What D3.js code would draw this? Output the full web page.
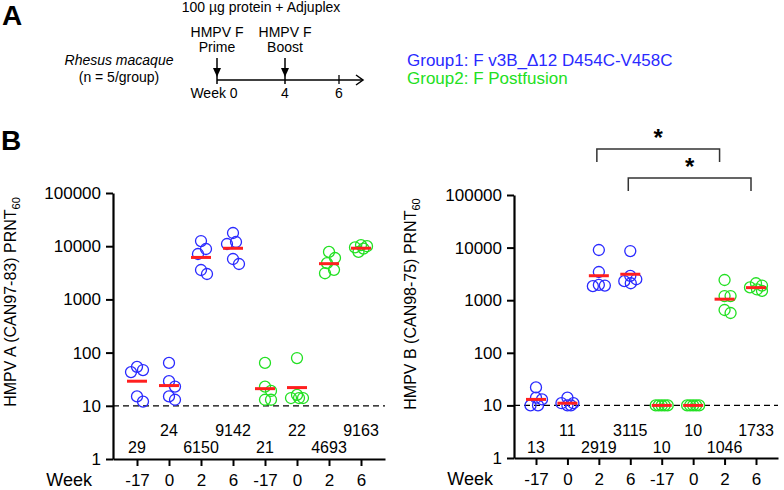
<!DOCTYPE html>
<html><head><meta charset="utf-8">
<script src="https://cdn.jsdelivr.net/npm/d3@7"></script>
<style>body{margin:0;background:#fff} svg{display:block;font-family:"Liberation Sans",Arial,sans-serif}</style>
</head><body><svg id="c" width="784" height="490"></svg>
<script>
// ---------- data ----------
const weeks = ["-17","0","2","6","-17","0","2","6"];
const groups = [1,1,1,1,2,2,2,2];
const hmpvA = [
  [54,47,43,15,12],
  [64,29,23,15,13],
  [12500,8850,7130,3570,3000],
  [17700,12000,11000,5750,4630],
  [64,23,19,13,13],
  [79,16,14,14,14],
  [7800,6000,4800,3600,3100],
  [10500,10000,9500,9000,7800]
];
const gmtA = [29,24,6150,9142,21,22,4693,9163];
const hmpvB = [
  [22,14,13,10,10],
  [14,11,11,10,10],
  [9000,3440,1950,1900,1850],
  [8600,2900,2500,2300,2100],
  [10,10,10,10,10],
  [10,10,10,10,10],
  [2420,1200,1200,651,571],
  [2100,1900,1750,1600,1500]
];
const gmtB = [13,11,2919,3115,10,10,1046,1733];
const yTicks = [1,10,100,1000,10000,100000];
const limitOfDetection = 10;
const legendLabels = ["Group1: F v3B_\u039412 D454C-V458C","Group2: F Postfusion"];
const sigPairs = [[2,6],[3,7]];
const sigLabels = ["*","*"];
const timelineWeeks = [0,4,6];
const timelineLabels = ["Week 0","4","6"];
const vaccinations = [{w:0,l1:"HMPV F",l2:"Prime"},{w:4,l1:"HMPV F",l2:"Boost"}];

// ---------- style ----------
const colors = {1:"#2a2aff",2:"#22e022"};
const red = "#ff1f1f";
const svg = d3.select("#c");

// ---------- panel A ----------
svg.append("text").attr("x",2).attr("y",25).attr("font-size",28).attr("font-weight","bold").text("A");
svg.append("text").attr("x",261).attr("y",12).attr("text-anchor","middle").attr("font-size",14).text("100 \u00b5g protein + Adjuplex");
svg.append("text").attr("x",119).attr("y",65).attr("text-anchor","middle").attr("font-size",14).attr("font-style","italic").text("Rhesus macaque");
svg.append("text").attr("x",119).attr("y",82).attr("text-anchor","middle").attr("font-size",14).text("(n = 5/group)");

const tx = d3.scaleLinear().domain(timelineWeeks).range([217,285,339]);
const tlY = 80;
svg.append("line").attr("x1",tx(0)).attr("x2",362).attr("y1",tlY).attr("y2",tlY).attr("stroke","#000").attr("stroke-width",1.5);
svg.append("path").attr("d",`M${356},${tlY-5}L${363},${tlY}L${356},${tlY+5}`).attr("fill","none").attr("stroke","#000").attr("stroke-width",1.5);
svg.append("line").attr("x1",tx(6)).attr("x2",tx(6)).attr("y1",tlY-5).attr("y2",tlY+4).attr("stroke","#000").attr("stroke-width",1.3);
vaccinations.forEach(v=>{
  const x = tx(v.w);
  svg.append("text").attr("x",x).attr("y",37).attr("text-anchor","middle").attr("font-size",14).text(v.l1);
  svg.append("text").attr("x",x).attr("y",52).attr("text-anchor","middle").attr("font-size",14).text(v.l2);
  svg.append("line").attr("x1",x).attr("x2",x).attr("y1",58).attr("y2",tlY+4).attr("stroke","#000").attr("stroke-width",1.5);
  svg.append("path").attr("d",`M${x-4},${68}L${x+4},${68}L${x},${77}Z`).attr("fill","#000");
});
timelineWeeks.forEach((w,i)=>{
  svg.append("text").attr("x",i===0?tx(w)-3:tx(w)).attr("y",98).attr("text-anchor","middle").attr("font-size",14).text(timelineLabels[i]);
});
legendLabels.forEach((l,i)=>{
  svg.append("text").attr("x",407).attr("y",66+i*18).attr("font-size",17).attr("fill",colors[i+1]).text(l);
});

// ---------- panel B ----------
svg.append("text").attr("x",1).attr("y",150).attr("font-size",28).attr("font-weight","bold").text("B");

function swarm(vals, y, r){
  const pts = vals.map((v,i)=>({v,i,y:y(v)})).sort((a,b)=>a.y-b.y);
  const placed = [];
  const dmin = 2*r*0.85;
  const cands = d3.range(-6,6.01,0.5).sort((a,b)=>Math.abs(a)-Math.abs(b)||b-a);
  const off = new Array(vals.length).fill(0);
  pts.forEach(p=>{
    let best=0, bestScore=-1;
    for(const c of cands){
      let s = dmin;
      for(const q of placed){ s = Math.min(s, Math.hypot(c-q.x, p.y-q.y)); }
      if(s>bestScore+1e-6){best=c;bestScore=s;}
      if(s>=dmin) break;
    }
    placed.push({x:best,y:p.y});
    off[p.i]=best;
  });
  return off;
}

function panel(cfg){
  const g = svg.append("g");
  const y = d3.scaleLog().domain([1,100000]).range(cfg.yRange);
  const x = d3.scalePoint().domain(d3.range(weeks.length)).range([cfg.axisX,cfg.xEnd]).padding(cfg.pad);
  // dashed LOD
  g.append("line").attr("x1",cfg.axisX).attr("x2",cfg.xEnd).attr("y1",y(limitOfDetection)).attr("y2",y(limitOfDetection))
    .attr("stroke","#000").attr("stroke-width",1.3).attr("stroke-dasharray","6,4");
  // y axis
  const ya = g.append("g").attr("transform",`translate(${cfg.axisX},0)`)
    .call(d3.axisLeft(y).tickValues(yTicks).tickFormat(d3.format("d")).tickSize(7).tickSizeOuter(0).tickPadding(5));
  ya.select(".domain").attr("stroke-width",2.2);
  ya.selectAll(".tick line").attr("stroke-width",2);
  ya.selectAll("text").attr("font-size",17).attr("font-family",null).attr("fill","#000");
  // x axis
  const xa = g.append("g").attr("transform",`translate(0,${cfg.yRange[0]})`)
    .call(d3.axisBottom(x).tickFormat(i=>weeks[i]).tickSize(7).tickSizeOuter(0).tickPadding(8));
  xa.select(".domain").attr("stroke-width",2.2);
  xa.selectAll(".tick line").attr("stroke-width",2);
  xa.selectAll("text").attr("font-size",17).attr("font-family",null).attr("fill","#000");
  g.append("text").attr("x",cfg.axisX-21).attr("y",cfg.yRange[0]+27).attr("text-anchor","end").attr("font-size",18).text("Week");
  // title
  const t = g.append("text").attr("transform",`translate(${cfg.titleX},${cfg.titleY}) rotate(-90)`).attr("text-anchor","middle").attr("font-size",16);
  t.append("tspan").text(cfg.title);
  t.append("tspan").attr("font-size",11).attr("dy",4).text("60");
  // points
  cfg.data.forEach((vals,i)=>{
    const off = swarm(vals,y,5.5);
    g.selectAll(null).data(vals).enter().append("circle")
      .attr("cx",(d,k)=>x(i)+off[k]).attr("cy",d=>y(d)).attr("r",5.5)
      .attr("fill","none").attr("stroke",colors[groups[i]]).attr("stroke-width",1.3);
  });
  // GMT lines & labels
  cfg.gmt.forEach((v,i)=>{
    g.append("line").attr("x1",x(i)-10).attr("x2",x(i)+10).attr("y1",y(v)).attr("y2",y(v)).attr("stroke",red).attr("stroke-width",3);
    g.append("text").attr("x",x(i)).attr("y",i%2===0?453:436).attr("text-anchor","middle").attr("font-size",16).text(v);
  });
  return {x,y,g};
}

panel({axisX:113,xEnd:385,pad:0.75,yRange:[459,193],data:hmpvA,gmt:gmtA,title:"HMPV A (CAN97-83) PRNT",titleX:16,titleY:302});
const pB = panel({axisX:514,xEnd:778,pad:0.7,yRange:[458,195],data:hmpvB,gmt:gmtB,title:"HMPV B (CAN98-75) PRNT",titleX:416,titleY:304});

// significance brackets
const brY = [149,178];
sigPairs.forEach((p,k)=>{
  const x1 = pB.x(p[0])-2, x2 = pB.x(p[1])-5;
  pB.g.append("path").attr("d",`M${x1},${brY[k]+13}V${brY[k]}H${x2}V${brY[k]+13}`)
    .attr("fill","none").attr("stroke","#333").attr("stroke-width",1.5);
  pB.g.append("text").attr("x",(x1+x2)/2).attr("y",brY[k]-3).attr("text-anchor","middle").attr("font-size",24).attr("font-weight","bold").text(sigLabels[k]);
});
</script>
</body></html>
